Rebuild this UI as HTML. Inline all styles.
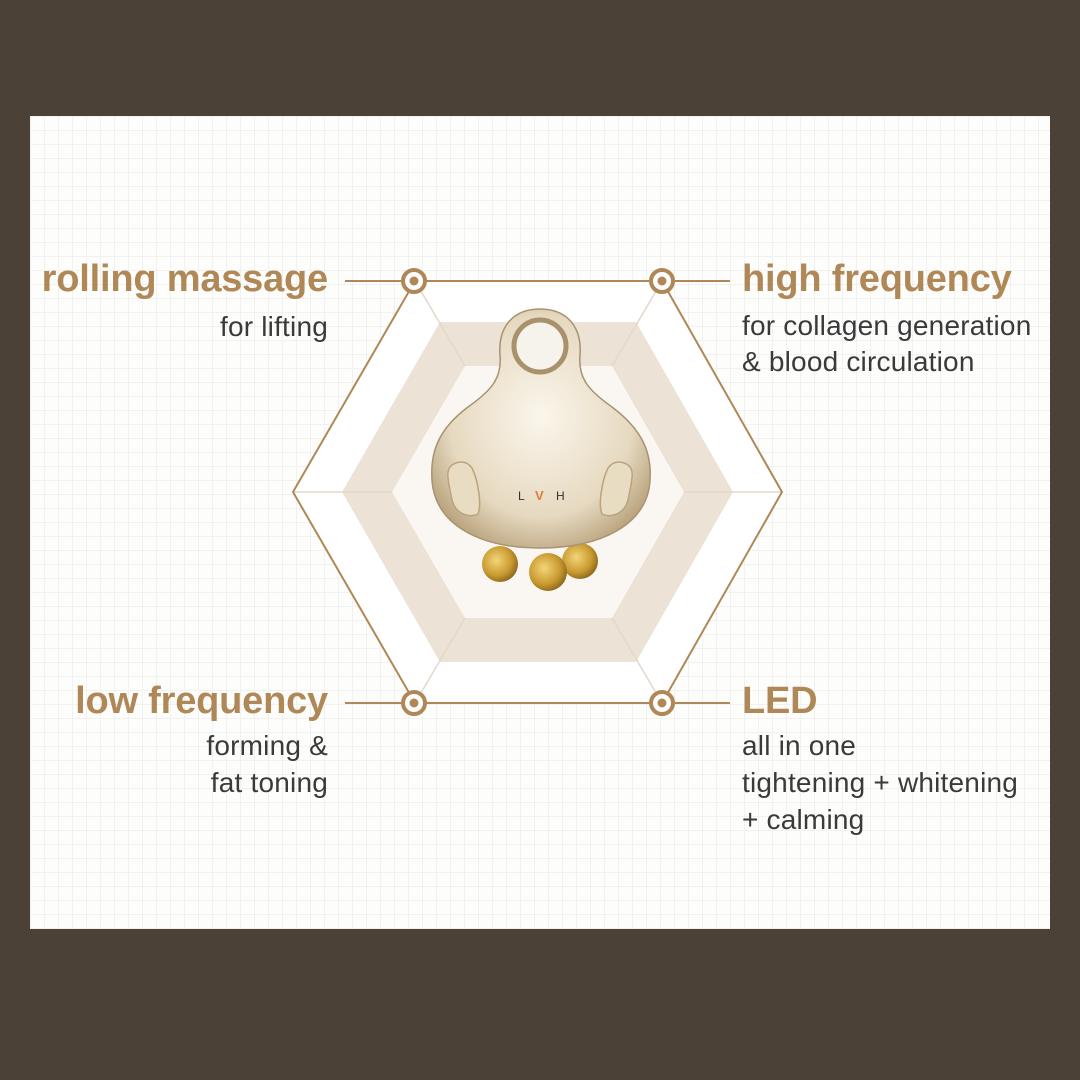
<!DOCTYPE html>
<html><head><style>
body{margin:0;width:1080px;height:1080px;background:#4b4137;position:relative;overflow:hidden;font-family:"Liberation Sans",sans-serif}
.panel{position:absolute;left:30px;top:116px;width:1020px;height:813px;background:#fdfdfc;
background-image:linear-gradient(#f1f1f0 1px,transparent 1px),linear-gradient(90deg,#f1f1f0 1px,transparent 1px);background-size:14px 14px}
.t{position:absolute;white-space:nowrap}
.h{font-size:38px;font-weight:bold;color:#b08858;letter-spacing:-0.2px}
.s{font-size:28px;color:#3a3a3a;letter-spacing:0.2px}
.r{text-align:right;right:752px}
.l{left:742px}
</style></head><body>
<div class="panel"></div>
<svg width="1080" height="1080" style="position:absolute;left:0;top:0">
<defs>
<radialGradient id="g" cx="0.5" cy="0.45" r="0.6"><stop offset="0" stop-color="#fbf6ec"/><stop offset="0.7" stop-color="#e6d9c0"/><stop offset="1" stop-color="#b9a37d"/></radialGradient>
<radialGradient id="gold" cx="0.4" cy="0.4" r="0.7"><stop offset="0" stop-color="#f4d57a"/><stop offset="0.6" stop-color="#c99a30"/><stop offset="1" stop-color="#7a5a18"/></radialGradient>
</defs>
<polygon points="293,492 415,281 662,281 782,492 662,703 415,703" fill="#fff"/>
<polygon points="342,492 440,322 636,322 733,492 636,662 440,662" fill="#ece2d5"/>
<polygon points="392,492 465,366 612,366 684,492 612,618 465,618" fill="#faf7f3"/>
<g stroke="#e3d8ca" stroke-width="1.5" fill="none">
<line x1="415" y1="281" x2="465" y2="366"/><line x1="662" y1="281" x2="612" y2="366"/>
<line x1="293" y1="492" x2="392" y2="492"/><line x1="782" y1="492" x2="684" y2="492"/>
<line x1="415" y1="703" x2="465" y2="618"/><line x1="662" y1="703" x2="612" y2="618"/>
</g>
<polygon points="293,492 415,281 662,281 782,492 662,703 415,703" fill="none" stroke="#b08858" stroke-width="2"/>
<g stroke="#b08858" stroke-width="2">
<line x1="345" y1="281" x2="402" y2="281"/><line x1="675" y1="281" x2="730" y2="281"/>
<line x1="345" y1="703" x2="402" y2="703"/><line x1="675" y1="703" x2="730" y2="703"/>
</g>
<g fill="#fff" stroke="#b08858" stroke-width="4">
<circle cx="414" cy="281" r="11"/><circle cx="662" cy="281" r="11"/><circle cx="414" cy="703" r="11"/><circle cx="662" cy="703" r="11"/>
</g>
<g fill="#b08858"><circle cx="414" cy="281" r="4.5"/><circle cx="662" cy="281" r="4.5"/><circle cx="414" cy="703" r="4.5"/><circle cx="662" cy="703" r="4.5"/></g>
<circle cx="500" cy="564" r="18" fill="url(#gold)"/>
<circle cx="580" cy="561" r="18" fill="url(#gold)"/>
<circle cx="548" cy="572" r="19" fill="url(#gold)"/>
<path d="M540,309 C512,309 498,328 500,355 C502,378 492,390 468,407 C440,428 430,450 432,480 C435,525 480,548 540,548 C600,548 648,525 650,480 C652,450 640,428 612,407 C588,390 578,378 580,355 C582,328 568,309 540,309 Z" fill="url(#g)" stroke="#a89270" stroke-width="1.5"/>
<circle cx="540" cy="346" r="26" fill="#f6f2ec" stroke="#a8916b" stroke-width="5"/>
<path d="M452,465 C445,470 448,480 452,500 C456,515 470,518 478,514 C482,505 478,480 472,468 C466,460 458,461 452,465 Z" fill="#e8dcc2" stroke="#b9a47e" stroke-width="1.5"/>
<path d="M628,465 C635,470 632,480 628,500 C624,515 610,518 602,514 C598,505 602,480 608,468 C614,460 622,461 628,465 Z" fill="#e8dcc2" stroke="#b9a47e" stroke-width="1.5"/>
<text x="518" y="500" font-size="12" fill="#333" font-family="Liberation Sans">L</text>
<text x="535" y="500" font-size="13" fill="#e07a3a" font-weight="bold" font-family="Liberation Sans">V</text>
<text x="556" y="500" font-size="12" fill="#333" font-family="Liberation Sans">H</text>
</svg>
<div class="t h r" style="top:258px">rolling massage</div>
<div class="t s r" style="top:311px">for lifting</div>
<div class="t h l" style="top:258px">high frequency</div>
<div class="t s l" style="top:310px">for collagen generation</div>
<div class="t s l" style="top:346px">&amp; blood circulation</div>
<div class="t h r" style="top:680px">low frequency</div>
<div class="t s r" style="top:730px">forming &amp;</div>
<div class="t s r" style="top:767px">fat toning</div>
<div class="t h l" style="top:680px">LED</div>
<div class="t s l" style="top:730px">all in one</div>
<div class="t s l" style="top:767px">tightening + whitening</div>
<div class="t s l" style="top:804px">+ calming</div>
</body></html>
